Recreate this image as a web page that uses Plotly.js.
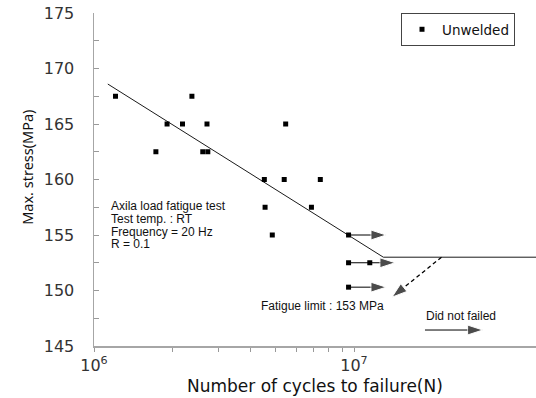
<!DOCTYPE html>
<html>
<head>
<meta charset="utf-8">
<script src="https://cdn.plot.ly/plotly-3.0.1.min.js"></script>
<style>html,body{margin:0;padding:0;background:#fff;}#chart{width:536px;height:398px;}</style>
</head>
<body>
<div id="chart"></div>
<script>
// ---- data ----
const cycles = [1.21e6, 2.38e6, 1.91e6, 2.19e6, 2.72e6, 5.46e6, 1.73e6, 2.62e6, 2.74e6,
                4.52e6, 5.39e6, 7.42e6, 4.55e6, 6.86e6, 4.85e6, 9.53e6, 9.53e6, 1.15e7, 9.53e6];
const stress = [167.5, 167.5, 165, 165, 165, 165, 162.5, 162.5, 162.5,
                160, 160, 160, 157.5, 157.5, 155, 155, 152.5, 152.5, 150.3];

const fitCycles = [1.13e6, 1.297e7, 6e7];
const fitStress = [168.6, 153, 153];

const runStartCycles = [9.53e6, 9.53e6, 9.53e6];
const runEndCycles = [1.33e7, 1.44e7, 1.33e7];
const runStress = [155, 152.5, 150.3];

const limitArrowCycles = [2.17e7, 1.40e7];
const limitArrowStress = [153, 149.4];

const keyArrowCycles = [1.875e7, 3.13e7];
const keyArrowStress = [146.44, 146.44];

const xTickVals = [1e6, 2e6, 3e6, 4e6, 5e6, 6e6, 7e6, 8e6, 9e6, 1e7];
const xTickText = ['10<sup>6</sup>', '', '', '', '', '', '', '', '', '10<sup>7</sup>'];
const yTickVals = [145, 147.5, 150, 152.5, 155, 157.5, 160, 162.5, 165, 167.5, 170, 172.5, 175];
const yTickText = ['145', '', '150', '', '155', '', '160', '', '165', '', '170', '', '175'];

const infoLines = ['Axila load fatigue test', 'Test temp. : RT', 'Frequency = 20 Hz', 'R = 0.1'];
const infoStress = [157.59, 156.44, 155.24, 154.23];
const infoCycles = 1.14e6;

const limitLabel = 'Fatigue limit : 153 MPa';
const limitLabelPos = [4.3e6, 148.58];
const keyLabel = 'Did not failed';
const keyLabelPos = [1.86e7, 147.74];

// ---- traces ----
const traces = [];
traces.push({
  x: fitCycles, y: fitStress, mode: 'lines', type: 'scatter',
  line: {color: '#1a1a1a', width: 1}, showlegend: false, hoverinfo: 'skip'
});
const headMarker = {symbol: 'arrow', angleref: 'previous', size: [0, 16], color: '#000'};
for (let i = 0; i < runStress.length; i++) {
  traces.push({
    x: [runStartCycles[i], runEndCycles[i]], y: [runStress[i], runStress[i]],
    mode: 'lines+markers', type: 'scatter', showlegend: false, hoverinfo: 'skip',
    line: {color: '#000', width: 1}, marker: headMarker
  });
}
traces.push({
  x: limitArrowCycles, y: limitArrowStress, mode: 'lines+markers', type: 'scatter',
  showlegend: false, hoverinfo: 'skip',
  line: {color: '#000', width: 1.3, dash: '4px,3px'}, marker: headMarker
});
traces.push({
  x: keyArrowCycles, y: keyArrowStress, mode: 'lines+markers', type: 'scatter',
  showlegend: false, hoverinfo: 'skip',
  line: {color: '#000', width: 1}, marker: headMarker
});
traces.push({
  x: cycles, y: stress, mode: 'markers', type: 'scatter', name: 'Unwelded',
  marker: {symbol: 'square', size: 5, color: '#000'}
});

// ---- annotations ----
const txtFont = {family: 'Liberation Sans, Arial, sans-serif', size: 12, color: '#111'};
const annotations = [];
infoLines.forEach((t, i) => annotations.push({
  x: Math.log10(infoCycles), y: infoStress[i], xref: 'x', yref: 'y', text: t,
  showarrow: false, xanchor: 'left', yanchor: 'middle', font: txtFont
}));
annotations.push({
  x: Math.log10(limitLabelPos[0]), y: limitLabelPos[1], xref: 'x', yref: 'y', text: limitLabel,
  showarrow: false, xanchor: 'left', yanchor: 'middle', font: txtFont
});
annotations.push({
  x: Math.log10(keyLabelPos[0]), y: keyLabelPos[1], xref: 'x', yref: 'y', text: keyLabel,
  showarrow: false, xanchor: 'left', yanchor: 'middle', font: txtFont
});
annotations.push({
  x: 0.5, y: 0, xref: 'paper', yref: 'paper', yshift: -40,
  text: 'Number of cycles to failure(N)', showarrow: false,
  xanchor: 'center', yanchor: 'middle',
  font: {family: 'DejaVu Sans, sans-serif', size: 17, color: '#111'}
});
annotations.push({
  x: 0, y: 0.535, xref: 'paper', yref: 'paper', xshift: -67,
  text: 'Max. stress(MPa)', showarrow: false, textangle: -90,
  xanchor: 'center', yanchor: 'middle',
  font: {family: 'Noto Sans, sans-serif', size: 14.5, color: '#111'}
});

const tickFont = {family: 'DejaVu Sans, sans-serif', size: 16, color: '#333'};
const layout = {
  width: 536, height: 398,
  margin: {l: 94, r: 0, t: 13, b: 52},
  paper_bgcolor: '#fff', plot_bgcolor: '#fff',
  xaxis: {
    type: 'log', range: [6, 7.7], tickmode: 'array', tickvals: xTickVals, ticktext: xTickText,
    ticks: 'outside', ticklen: 4, tickcolor: '#999', tickwidth: 1,
    showline: true, linecolor: '#a6a6a6', linewidth: 1.5,
    showgrid: false, zeroline: false, tickfont: tickFont
  },
  yaxis: {
    range: [145, 175], tickmode: 'array', tickvals: yTickVals, ticktext: yTickText,
    ticks: 'inside', ticklen: 5, tickcolor: '#999', tickwidth: 1,
    showline: true, linecolor: '#a6a6a6', linewidth: 1.5,
    showgrid: false, zeroline: false, tickfont: tickFont, ticklabelstandoff: 15
  },
  showlegend: true,
  legend: {
    x: 0.9525, xanchor: 'right', y: 1, yanchor: 'top',
    bordercolor: '#444', borderwidth: 1, bgcolor: '#fff',
    font: {family: 'DejaVu Sans, sans-serif', size: 13.5, color: '#111'},
    itemwidth: 30, tracegroupgap: 0
  },
  annotations: annotations
};

Plotly.newPlot('chart', traces, layout, {displayModeBar: false, staticPlot: true});
</script>
</body>
</html>
